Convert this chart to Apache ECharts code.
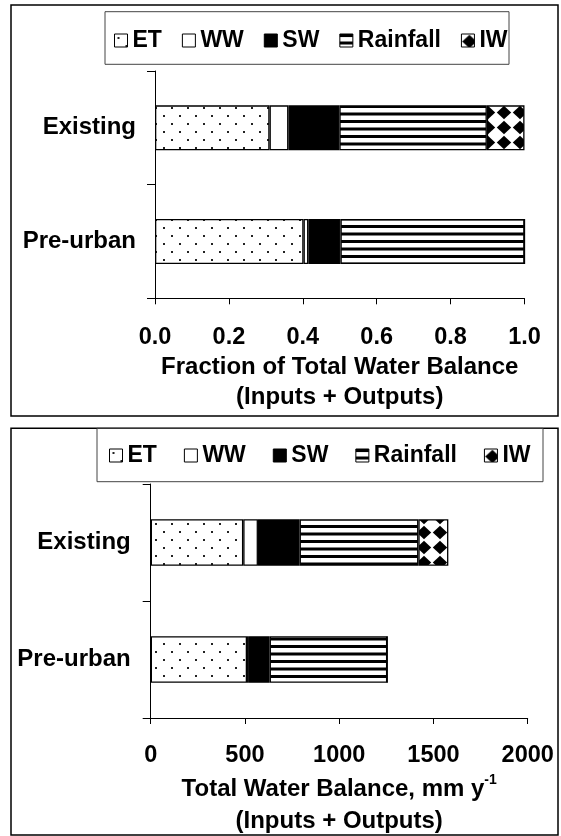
<!DOCTYPE html>
<html><head><meta charset="utf-8">
<script src="https://cdn.jsdelivr.net/npm/echarts@6/dist/echarts.min.js"></script>
<style>html,body{margin:0;padding:0;background:#fff}#c{width:561px;height:836px}</style>
</head><body><div id="c"></div>
<script>
// ---- data ----
const categories = ['Existing', 'Pre-urban'];
const seriesNames = ['ET', 'WW', 'SW', 'Rainfall', 'IW'];
// top chart: fraction of total water balance
const fracET = [0.310, 0.402];
const fracWW = [0.051, 0.013];
const fracSW = [0.138, 0.087];
const fracRain = [0.399, 0.498];
const fracIW = [0.102, 0];
// bottom chart: total water balance, mm/y
const mmET = [491, 511];
const mmWW = [78, 10];
const mmSW = [221, 110];
const mmRain = [630, 624];
const mmIW = [159, 0];
const topTicks = ['0.0', '0.2', '0.4', '0.6', '0.8', '1.0'];
const botTicks = ['0', '500', '1000', '1500', '2000'];

// ---- patterns ----
function tile(w, h, draw) {
  const c = document.createElement('canvas');
  c.width = w; c.height = h;
  const g = c.getContext('2d');
  g.fillStyle = '#fff'; g.fillRect(0, 0, w, h);
  g.fillStyle = '#000';
  draw(g);
  return c;
}
const patET = tile(16, 16, g => { g.fillStyle = '#222'; g.fillRect(3, 3, 2, 2); g.fillRect(11, 11, 2, 2); });
const patRain = tile(4, 15, g => { g.fillRect(0, 0, 4, 3); g.fillRect(0, 7.5, 4, 3); });
const patIW = tile(16, 15, g => {
  g.beginPath(); g.moveTo(8, 0.8); g.lineTo(15.2, 7.5); g.lineTo(8, 14.2); g.lineTo(0.8, 7.5); g.closePath(); g.fill();
});
const fills = [
  { image: patET, repeat: 'repeat' },
  '#ffffff',
  '#000000',
  { image: patRain, repeat: 'repeat' },
  { image: patIW, repeat: 'repeat' }
];

const FONT = '"Liberation Sans", Arial, sans-serif';
const topData = [fracET, fracWW, fracSW, fracRain, fracIW];
const botData = [mmET, mmWW, mmSW, mmRain, mmIW];

const series = [];
seriesNames.forEach((n, i) => {
  series.push({
    name: n, type: 'bar', stack: 'top', xAxisIndex: 0, yAxisIndex: 0,
    barWidth: 45, data: topData[i],
    itemStyle: { color: fills[i], borderColor: '#000', borderWidth: 1.3 },
    emphasis: { disabled: true }, animation: false
  });
});
seriesNames.forEach((n, i) => {
  series.push({
    name: n, type: 'bar', stack: 'bot', xAxisIndex: 1, yAxisIndex: 1,
    barWidth: 46.5, data: botData[i],
    itemStyle: { color: fills[i], borderColor: '#000', borderWidth: 1.3 },
    emphasis: { disabled: true }, animation: false
  });
});

const tickLbl = { fontFamily: FONT, fontSize: 23.5, fontWeight: 'bold', color: '#000' };
const bigLbl = { fontFamily: FONT, fontSize: 24, fontWeight: 'bold', color: '#000' };
const legendCommon = {
  orient: 'horizontal', icon: 'rect', itemWidth: 13, itemHeight: 13, padding: 0,
  data: seriesNames,
  itemStyle: { borderColor: '#000', borderWidth: 1 },
  textStyle: { fontFamily: FONT, fontSize: 23, fontWeight: 'bold', color: '#000' },
  selectedMode: false
};

const option = {
  backgroundColor: '#fff',
  animation: false,
  graphic: [
    { type: 'rect', shape: { x: 11, y: 5, width: 547, height: 411 }, style: { fill: 'none', stroke: '#000', lineWidth: 1.5 } },
    { type: 'rect', shape: { x: 11, y: 428.3, width: 547, height: 406.7 }, style: { fill: 'none', stroke: '#000', lineWidth: 1.5 } },
    { type: 'rect', shape: { x: 105, y: 11.7, width: 404, height: 52.6 }, style: { fill: 'none', stroke: '#444', lineWidth: 1 } },
    { type: 'rect', shape: { x: 97, y: 428.3, width: 446, height: 53.4 }, style: { fill: 'none', stroke: '#444', lineWidth: 1 } }
  ],
  legend: [
    Object.assign({}, legendCommon, { left: 114, top: 29, itemGap: 20 }),
    Object.assign({}, legendCommon, { left: 109, top: 444, itemGap: 27 })
  ],
  grid: [
    { left: 155, top: 71, width: 369.5, height: 227.3, outerBoundsMode: 'none', containLabel: false },
    { left: 150.7, top: 484, width: 377, height: 234, outerBoundsMode: 'none', containLabel: false }
  ],
  xAxis: [
    {
      type: 'value', gridIndex: 0, min: 0, max: 1, interval: 0.2,
      axisLine: { show: true, lineStyle: { color: '#000', width: 1 } },
      axisTick: { show: true, length: 6, lineStyle: { color: '#000' } },
      splitLine: { show: false },
      axisLabel: Object.assign({ margin: 27, formatter: (v) => topTicks[Math.round(v / 0.2)] }, tickLbl),
      name: 'Fraction of Total Water Balance\n(Inputs + Outputs)',
      nameLocation: 'middle', nameGap: 54,
      nameTextStyle: Object.assign({ lineHeight: 30 }, bigLbl)
    },
    {
      type: 'value', gridIndex: 1, min: 0, max: 2000, interval: 500,
      axisLine: { show: true, lineStyle: { color: '#000', width: 1 } },
      axisTick: { show: true, length: 6, lineStyle: { color: '#000' } },
      splitLine: { show: false },
      axisLabel: Object.assign({ margin: 26, formatter: (v) => botTicks[Math.round(v / 500)] }, tickLbl),
      name: 'Total Water Balance, mm y{sup|-1}\n(Inputs + Outputs)',
      nameLocation: 'middle', nameGap: 55,
      nameTextStyle: Object.assign({ lineHeight: 32, rich: {
        sup: { fontFamily: FONT, fontSize: 14, fontWeight: 'bold', color: '#000', verticalAlign: 'top', lineHeight: 32, padding: [0, 0, 12, 0] }
      } }, bigLbl)
    }
  ],
  yAxis: [
    {
      type: 'category', gridIndex: 0, data: categories, inverse: true,
      axisLine: { show: true, lineStyle: { color: '#000', width: 1 } },
      axisTick: { show: true, length: 8, lineStyle: { color: '#000' } },
      axisLabel: Object.assign({ margin: 19 }, bigLbl)
    },
    {
      type: 'category', gridIndex: 1, data: categories, inverse: true,
      axisLine: { show: true, lineStyle: { color: '#000', width: 1 } },
      axisTick: { show: true, length: 8, lineStyle: { color: '#000' } },
      axisLabel: Object.assign({ margin: 20 }, bigLbl)
    }
  ],
  series: series
};
const chart = echarts.init(document.getElementById('c'), null, { renderer: 'canvas' });
chart.setOption(option);
</script>
</body></html>
